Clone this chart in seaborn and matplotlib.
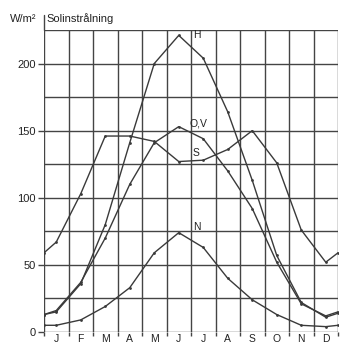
import matplotlib
matplotlib.use("Agg")
import matplotlib.pyplot as plt
import seaborn as sns
import pandas as pd
import numpy as np

# x positions: year start, month centres, year end
pos = [0, 0.5, 1.5, 2.5, 3.5, 4.5, 5.5, 6.5, 7.5, 8.5, 9.5, 10.5, 11.5, 12]
month_labels = ["J", "F", "M", "A", "M", "J", "J", "A", "S", "O", "N", "D"]

H = [13, 15, 36, 80, 141, 200, 221, 204, 164, 113, 57, 22, 11, 14]
OV = [13, 16, 37, 70, 110, 141, 153, 144, 120, 92, 52, 21, 12, 15]
S = [59, 67, 103, 146, 146, 142, 127, 128, 136, 150, 126, 76, 52, 59]
N = [5, 5, 9, 19, 33, 59, 74, 63, 40, 24, 13, 5, 4, 5]

series_names = ["H", "O,V", "S", "N"]
series_vals = [H, OV, S, N]
label_pos = [(6.1, 221), (5.95, 155), (6.05, 133), (6.1, 78)]

df = pd.concat([pd.DataFrame({"x": pos, "y": v, "s": n})
                for n, v in zip(series_names, series_vals)])

sns.set_theme(style="white")
plt.rcParams["font.family"] = ["Liberation Sans", "DejaVu Sans"]

fig = plt.figure(figsize=(3.5, 3.44), dpi=100)
ax = fig.add_axes([44/350, 1-332/344, (338-44)/350, (332-30)/344])

gc = "#444444"
tc = "#222222"
ax.set_xlim(0, 12)
ax.set_ylim(0, 225)
ax.set_xticks(np.arange(0, 13))
ax.set_xticks(np.arange(0.5, 12, 1), minor=True)
ax.set_xticklabels([])
ax.set_xticklabels(month_labels, minor=True)
ax.set_yticks(np.arange(0, 201, 50))
ax.set_yticks(np.arange(0, 226, 25), minor=True)
ax.grid(True, which="major", color=gc, lw=1.0)
ax.grid(True, which="minor", axis="y", color=gc, lw=1.0)
ax.tick_params(axis="x", which="major", length=3, color=gc, width=1.0, direction="out", bottom=True)
ax.tick_params(axis="x", which="minor", length=0, pad=1.5, labelsize=7.5, labelcolor=tc)
ax.tick_params(axis="y", which="major", length=4, color=gc, width=1.0, pad=2,
               labelsize=8, labelcolor=tc, left=True)
ax.tick_params(axis="y", which="minor", length=0)
for sp in ax.spines.values():
    sp.set_visible(False)

for name in series_names:
    d = df[df.s == name]
    sns.lineplot(data=d, x="x", y="y", ax=ax, color="#3a3a3a", lw=1.0, legend=False,
                 marker="o", markersize=2.0, markeredgewidth=0, estimator=None, sort=False)
    lx, ly = label_pos[series_names.index(name)]
    ax.text(lx, ly, name, fontsize=7.5, color=tc, ha="left", va="center")

ax.axvline(0, ymin=1, ymax=1.05, color=gc, lw=1.0, clip_on=False)
ax.set_xlabel("")
ax.set_ylabel("")
fig.text(10/350, 1-19/344, "W/m²", fontsize=8, color=tc, va="center", ha="left")
fig.text(46/350, 1-19/344, "Solinstrålning", fontsize=8, color=tc, va="center", ha="left")

fig.savefig("out.png", dpi=100)
